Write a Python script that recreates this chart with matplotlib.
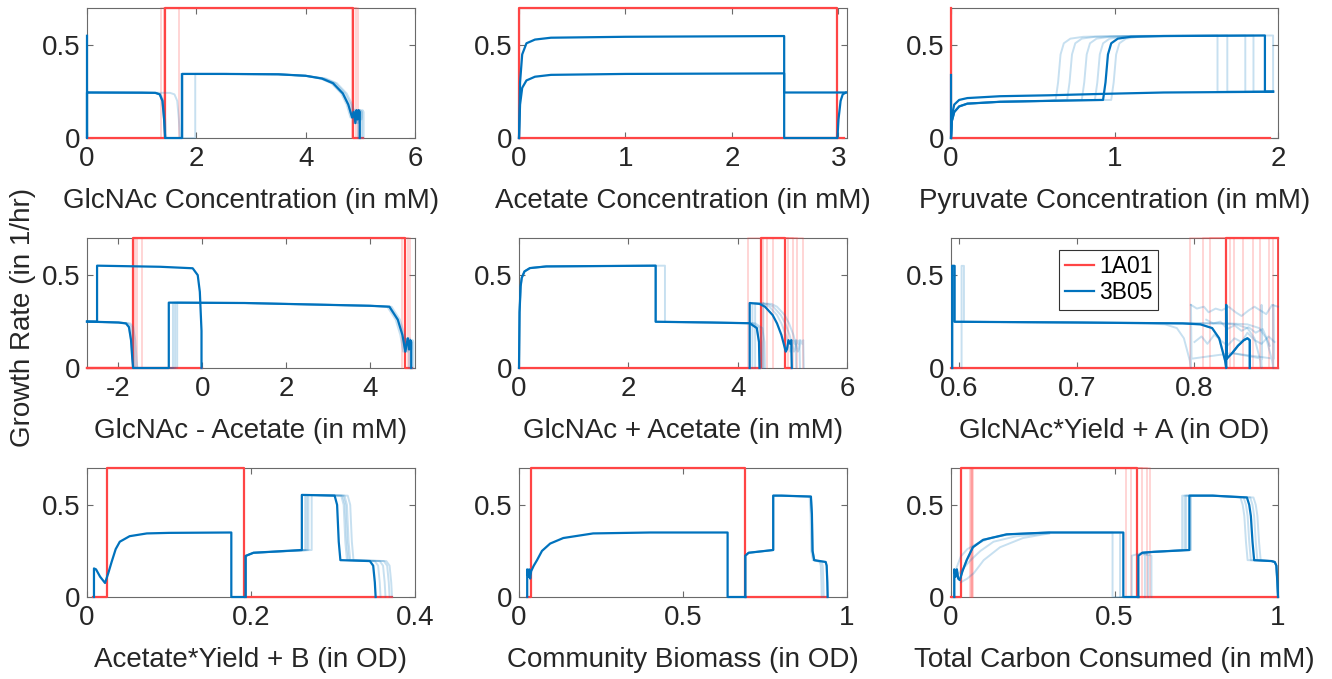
import matplotlib
matplotlib.use("Agg")
import matplotlib.pyplot as plt

plt.rcParams['font.family'] = ['Liberation Sans', 'DejaVu Sans']

RED = '#ff4545'
BLUE = '#0072bd'
AXC = '#6a6a6a'
TXT = '#262626'

# ---------------- data ----------------
xlabels = ['GlcNAc Concentration (in mM)', 'Acetate Concentration (in mM)',
           'Pyruvate Concentration (in mM)', 'GlcNAc - Acetate (in mM)',
           'GlcNAc + Acetate (in mM)', 'GlcNAc*Yield + A (in OD)',
           'Acetate*Yield + B (in OD)', 'Community Biomass (in OD)',
           'Total Carbon Consumed (in mM)']
xlims = [(0, 6), (0, 3.08), (0, 2), (-2.75, 5.07), (0, 6), (0.593, 0.871),
         (0, 0.4), (0, 1), (0, 1)]
xticks = [[0, 2, 4, 6], [0, 1, 2, 3], [0, 1, 2], [-2, 0, 2, 4], [0, 2, 4, 6],
          [0.6, 0.7, 0.8], [0, 0.2, 0.4], [0, 0.5, 1], [0, 0.5, 1]]
xticklabels = [['0', '2', '4', '6'], ['0', '1', '2', '3'], ['0', '1', '2'],
               ['-2', '0', '2', '4'], ['0', '2', '4', '6'], ['0.6', '0.7', '0.8'],
               ['0', '0.2', '0.4'], ['0', '0.5', '1'], ['0', '0.5', '1']]

# panel 1 : GlcNAc concentration
p1_red_x = [0, 1.43, 1.43, 4.87, 4.87, 5.05]
p1_red_y = [0, 0, 0.7, 0.7, 0, 0]
p1_red_faint = [(1.36, 4.84), (1.40, 4.92), (1.68, 4.96)]
p1_blue_x = [0, 0, 0, 1.0, 1.25, 1.33, 1.38, 1.41, 1.43, 1.74, 1.74, 2.5, 3.5, 4.0, 4.3,
             4.5, 4.68, 4.78, 4.85, 4.88, 4.91, 4.93, 4.95, 4.97, 4.99, 4.99]
p1_blue_y = [0.55, 0, 0.245, 0.244, 0.243, 0.235, 0.2, 0.1, 0, 0, 0.345, 0.345, 0.343,
             0.335, 0.32, 0.295, 0.24, 0.18, 0.11, 0.14, 0.08, 0.15, 0.1, 0.15, 0.14, 0]
p1_blue_moves = [[(1.2, 1.45, 0.27), (1.7, 1.75, 0.24)],
                 [(1.2, 1.45, 0.02), (1.7, 1.75, -0.02), (4.3, 5.0, 0.04)],
                 [(4.3, 5.0, 0.07)],
                 [(4.3, 5.0, -0.03)]]

# panel 2 : acetate concentration
p2_red_x = [0, 0, 2.99, 2.99, 3.05]
p2_red_y = [0, 0.7, 0.7, 0, 0]
p2_red_base_x = [0, 2.99]
p2_red_base_y = [0, 0]
p2_blueA_x = [0, 0.01, 0.03, 0.07, 0.15, 0.3, 1.0, 2.49, 2.49, 2.99, 3.0, 3.02, 3.04, 3.07]
p2_blueA_y = [0, 0.3, 0.45, 0.51, 0.53, 0.54, 0.545, 0.549, 0, 0, 0.1, 0.2, 0.235, 0.245]
p2_blueB_x = [0, 0.01, 0.03, 0.07, 0.15, 0.3, 1.0, 2.49, 2.49, 3.07]
p2_blueB_y = [0, 0.18, 0.27, 0.31, 0.33, 0.34, 0.345, 0.348, 0.245, 0.245]

# panel 3 : pyruvate concentration
p3_red_x = [0, 0, 1.95]
p3_red_y = [0.7, 0, 0]
p3_spike_x = [0, 0]
p3_spike_y = [0, 0.34]
p3_blueA_x = [0, 0.005, 0.02, 0.05, 0.1, 0.3, 0.6, 0.9, 1.3, 1.97]
p3_blueA_y = [0, 0.12, 0.18, 0.205, 0.215, 0.225, 0.23, 0.237, 0.245, 0.249]
p3_blueB_x = [0, 0.005, 0.02, 0.05, 0.1, 0.3, 0.6, 0.93, 0.945, 0.96, 0.98, 1.02, 1.1,
              1.3, 1.92, 1.92, 1.97]
p3_blueB_y = [0, 0.09, 0.14, 0.17, 0.185, 0.195, 0.2, 0.205, 0.3, 0.45, 0.51, 0.535,
              0.545, 0.549, 0.552, 0.25, 0.25]
p3_rise = [0.65, 0.72, 0.81, 0.89, 0.99]
p3_end = [1.63, 1.69, 1.80, 1.85, 1.97]

# panel 4 : GlcNAc - acetate
p4_red_x = [-2.75, -1.65, -1.65, 4.82, 4.82, 5.0]
p4_red_y = [0, 0, 0.7, 0.7, 0, 0]
p4_red_base_x = [-2.75, 0.0]
p4_red_base_y = [0, 0]
p4_red_faint = [(-1.55, 4.75), (-1.45, 4.95), (-1.6, 4.9)]
p4_blueA_x = [-2.75, -2.51, -2.51, -1.0, -0.23, -0.11, -0.06, -0.02, -0.02]
p4_blueA_y = [0.25, 0.25, 0.551, 0.545, 0.537, 0.5, 0.41, 0.2, 0]
p4_blueB_x = [-2.75, -2.0, -1.82, -1.75, -1.7, -1.67, -1.65, -0.8, -0.8, 1.0, 3.0, 4.0,
              4.46, 4.66, 4.77, 4.84, 4.87, 4.9, 4.93, 4.96, 4.98, 4.98]
p4_blueB_y = [0.25, 0.245, 0.24, 0.22, 0.15, 0.05, 0, 0, 0.352, 0.35, 0.34, 0.335,
              0.33, 0.26, 0.178, 0.088, 0.13, 0.16, 0.1, 0.15, 0.14, 0]
p4_blue_moves = [[(-1.85, -1.6, 0.1), (-0.8, -0.8, 0.1)],
                 [(-1.85, -1.6, 0.05), (-0.8, -0.8, 0.2), (4.4, 5.0, 0.05)],
                 [(-0.8, -0.8, 0.15), (4.4, 5.0, -0.05)]]

# panel 5 : GlcNAc + acetate
p5_red_x = [0, 4.42, 4.42, 4.87, 4.87, 4.97]
p5_red_y = [0, 0, 0.7, 0.7, 0, 0]
p5_red_faint = [(4.19, 4.92), (4.46, 5.01), (4.53, 5.08), (4.64, 5.19)]
p5_blueA_x = [0, 0.01, 0.03, 0.05, 0.1, 0.2, 0.5, 2.5, 2.5, 3.5, 4.22, 4.35, 4.39, 4.4]
p5_blueA_y = [0, 0.3, 0.44, 0.485, 0.52, 0.538, 0.547, 0.551, 0.249, 0.245, 0.241,
              0.215, 0.14, 0]
p5_blueB_x = [4.22, 4.22, 4.4, 4.5, 4.64, 4.72, 4.8, 4.88, 4.9, 4.93, 4.96, 4.98, 4.99]
p5_blueB_y = [0, 0.35, 0.345, 0.33, 0.285, 0.24, 0.178, 0.088, 0.1, 0.15, 0.13, 0.15, 0]
p5_blueA_moves = [[(2.4, 2.6, 0.17)], [(4.2, 4.41, 0.05)], [(4.2, 4.41, 0.1)]]
p5_blueB_moves = [[(4.22, 4.22, 0.1), (4.3, 5.0, 0.15)],
                  [(4.22, 4.22, 0.05), (4.3, 5.0, 0.22)],
                  [(4.22, 4.22, 0.25), (4.3, 5.0, 0.08)]]

# panel 6 : GlcNAc*Yield + A
p6_red_x = [0.593, 0.827, 0.827, 0.871]
p6_red_y = [0, 0, 0.7, 0.7]
p6_red_base_x = [0.827, 0.871]
p6_red_base_y = [0, 0]
p6_red_faint = [0.796, 0.807, 0.813, 0.830, 0.834, 0.841, 0.850, 0.856, 0.863, 0.867]
p6_blue_x = [0.594, 0.594, 0.596, 0.596, 0.7, 0.79, 0.805, 0.815, 0.821, 0.824, 0.826,
             0.827, 0.827, 0.8275, 0.832, 0.837, 0.842, 0.845, 0.847, 0.847]
p6_blue_y = [0, 0.55, 0.55, 0.249, 0.245, 0.24, 0.235, 0.215, 0.16, 0.088, 0.04, 0,
             0.34, 0.05, 0.08, 0.12, 0.15, 0.16, 0.15, 0]
p6_blue_moves = [[(0.79, 0.83, -0.03)], [(0.79, 0.83, 0.03)], [(0.79, 0.83, 0.04)],
                 [(0.594, 0.596, 0.008)]]
p6_wiggle_x = [[0.797, 0.802, 0.808, 0.812, 0.818, 0.823, 0.829, 0.835, 0.84, 0.846,
                0.851, 0.856, 0.861, 0.866, 0.871],
               [0.8, 0.806, 0.811, 0.817, 0.822, 0.828, 0.834, 0.84, 0.845, 0.851,
                0.857, 0.863, 0.868],
               [0.81, 0.816, 0.822, 0.828, 0.834, 0.84, 0.846, 0.852, 0.858, 0.864]]
p6_wiggle_y = [[0.34, 0.32, 0.33, 0.3, 0.32, 0.31, 0.33, 0.3, 0.28, 0.31, 0.33, 0.31,
                0.29, 0.34, 0.33],
               [0.14, 0.17, 0.13, 0.18, 0.15, 0.12, 0.16, 0.14, 0.19, 0.15, 0.13, 0.17,
                0.14],
               [0.26, 0.24, 0.25, 0.21, 0.23, 0.2, 0.22, 0.19, 0.21, 0.12]]

# panel 7 : Acetate*Yield + B
p7_red_x = [0.007, 0.024, 0.024, 0.191, 0.191, 0.372]
p7_red_y = [0, 0, 0.7, 0.7, 0, 0]
p7_blueA_x = [0.0085, 0.0085, 0.011, 0.016, 0.022, 0.026, 0.03, 0.035, 0.04, 0.052,
              0.073, 0.1, 0.176, 0.176, 0.191]
p7_blueA_y = [0, 0.155, 0.15, 0.11, 0.076, 0.13, 0.19, 0.26, 0.3, 0.33, 0.345, 0.348,
              0.35, 0, 0]
p7_blueB_x = [0.1935, 0.1935, 0.203, 0.262, 0.262, 0.302, 0.305, 0.307, 0.309, 0.345,
              0.349, 0.351, 0.352]
p7_blueB_y = [0, 0.223, 0.24, 0.255, 0.554, 0.55, 0.5, 0.3, 0.2, 0.195, 0.17, 0.08, 0]
p7_blue_moves = [[(0.26, 0.263, 0.004), (0.3, 0.31, 0.008), (0.34, 0.353, 0.006)],
                 [(0.26, 0.263, 0.008), (0.3, 0.31, 0.012), (0.34, 0.353, 0.012)],
                 [(0.26, 0.263, 0.012), (0.3, 0.31, 0.016), (0.34, 0.353, 0.017)],
                 [(0.26, 0.263, 0.006), (0.3, 0.31, 0.01), (0.34, 0.353, 0.02)]]

# panel 8 : community biomass
p8_red_x = [0.023, 0.037, 0.037, 0.69, 0.69, 0.94]
p8_red_y = [0, 0, 0.7, 0.7, 0, 0]
p8_blueA_x = [0.025, 0.025, 0.028, 0.031, 0.034, 0.037, 0.045, 0.055, 0.07, 0.095, 0.135,
              0.226, 0.4, 0.636, 0.636, 0.69]
p8_blueA_y = [0, 0.15, 0.11, 0.15, 0.1, 0.14, 0.17, 0.2, 0.25, 0.29, 0.32, 0.345, 0.35,
              0.35, 0, 0]
p8_blueB_x = [0.69, 0.69, 0.7, 0.775, 0.775, 0.8, 0.89, 0.893, 0.895, 0.9, 0.935, 0.938,
              0.94, 0.941]
p8_blueB_y = [0, 0.224, 0.24, 0.255, 0.55, 0.55, 0.545, 0.45, 0.25, 0.2, 0.19, 0.17, 0.08, 0]
p8_blue_moves = [[(0.93, 0.95, -0.012)], [(0.93, 0.95, -0.018)], [(0.88, 0.9, -0.004)]]

# panel 9 : total carbon consumed
p9_red_x = [0, 0.03, 0.03, 0.569, 0.569, 1.0]
p9_red_y = [0, 0, 0.7, 0.7, 0, 0]
p9_red_faint = [(0.058, 0.535), (0.063, 0.55), (0.068, 0.585), (0.06, 0.6), (0.065, 0.61)]
p9_blueA_x = [0.01, 0.01, 0.014, 0.018, 0.022, 0.027, 0.035, 0.048, 0.067, 0.098, 0.17,
              0.3, 0.527, 0.527, 0.573]
p9_blueA_y = [0, 0.15, 0.11, 0.15, 0.1, 0.092, 0.14, 0.2, 0.27, 0.31, 0.34, 0.35, 0.35, 0, 0]
p9_blueB_x = [0.573, 0.573, 0.585, 0.62, 0.729, 0.729, 0.8, 0.905, 0.912, 0.917, 0.922,
              0.927, 0.98, 0.99, 0.995, 0.998, 1.0]
p9_blueB_y = [0, 0.224, 0.24, 0.245, 0.255, 0.55, 0.55, 0.54, 0.5, 0.44, 0.3, 0.2,
              0.195, 0.19, 0.17, 0.08, 0]
p9_blueA_moves = [[(0.5, 0.6, -0.033)], [(0.5, 0.6, -0.01)]]
p9_blueB_moves = [[(0.573, 0.573, -0.02), (0.7, 0.75, -0.022), (0.9, 0.93, -0.02)],
                  [(0.573, 0.573, 0.02), (0.7, 0.75, -0.01), (0.9, 0.93, -0.01)],
                  [(0.573, 0.573, 0.03), (0.7, 0.75, 0.005), (0.9, 0.93, 0.01)],
                  [(0.573, 0.573, 0.04), (0.7, 0.75, -0.015), (0.9, 0.93, 0.02)]]
p9_early_x = [[0.02, 0.04, 0.06, 0.09, 0.13, 0.2, 0.3],
              [0.015, 0.03, 0.05, 0.08, 0.12, 0.18, 0.3],
              [0.03, 0.05, 0.07, 0.1, 0.15, 0.22, 0.3]]
p9_early_y = [[0.12, 0.16, 0.2, 0.25, 0.3, 0.33, 0.345],
              [0.15, 0.22, 0.26, 0.29, 0.32, 0.34, 0.35],
              [0.08, 0.1, 0.13, 0.2, 0.27, 0.32, 0.345]]


def moved(xs, moves):
    out = []
    for x in xs:
        for lo, hi, dx in moves:
            if lo <= x <= hi:
                x = x + dx
                break
        out.append(x)
    return out


def main_line(ax, x, y, c, **kw):
    return ax.plot(x, y, color=c, lw=1.6, clip_on=False, **kw)[0]


def faint_line(ax, x, y, c):
    ax.plot(x, y, color=c, lw=1.4, alpha=0.22, clip_on=False)


def faint_box(ax, lo, hi):
    faint_line(ax, [lo, lo, hi, hi], [0, 0.7, 0.7, 0], RED)


# ---------------- figure ----------------
W, H = 1332, 679
fig = plt.figure(figsize=(W / 100, H / 100), dpi=100)
cols = [(87, 415), (519, 847), (951, 1278)]
rows = [(8, 138), (238, 368), (468, 597)]

axes = []
for r, (top, bot) in enumerate(rows):
    for c, (lft, rgt) in enumerate(cols):
        ax = fig.add_axes([lft / W, 1 - bot / H, (rgt - lft) / W, (bot - top) / H])
        axes.append(ax)

# panel 1
ax = axes[0]
main_line(ax, p1_red_x, p1_red_y, RED)
for lo, hi in p1_red_faint:
    faint_box(ax, lo, hi)
for mv in p1_blue_moves:
    faint_line(ax, moved(p1_blue_x, mv), p1_blue_y, BLUE)
main_line(ax, p1_blue_x, p1_blue_y, BLUE)

# panel 2
ax = axes[1]
main_line(ax, p2_red_base_x, p2_red_base_y, RED)
main_line(ax, p2_red_x, p2_red_y, RED)
main_line(ax, p2_blueA_x, p2_blueA_y, BLUE)
main_line(ax, p2_blueB_x, p2_blueB_y, BLUE)

# panel 3
ax = axes[2]
main_line(ax, p3_red_x, p3_red_y, RED)
main_line(ax, p3_spike_x, p3_spike_y, BLUE)
for rise, end in zip(p3_rise, p3_end):
    mv = [(0.92, 1.5, rise - 0.94), (1.9, 1.95, end - 1.92)]
    faint_line(ax, moved(p3_blueB_x, mv), p3_blueB_y, BLUE)
main_line(ax, p3_blueA_x, p3_blueA_y, BLUE)
main_line(ax, p3_blueB_x, p3_blueB_y, BLUE)

# panel 4
ax = axes[3]
main_line(ax, p4_red_base_x, p4_red_base_y, RED)
main_line(ax, p4_red_x, p4_red_y, RED)
for lo, hi in p4_red_faint:
    faint_box(ax, lo, hi)
for mv in p4_blue_moves:
    faint_line(ax, moved(p4_blueB_x, mv), p4_blueB_y, BLUE)
main_line(ax, p4_blueA_x, p4_blueA_y, BLUE)
main_line(ax, p4_blueB_x, p4_blueB_y, BLUE)

# panel 5
ax = axes[4]
main_line(ax, p5_red_x, p5_red_y, RED)
for lo, hi in p5_red_faint:
    faint_box(ax, lo, hi)
for mv in p5_blueA_moves:
    faint_line(ax, moved(p5_blueA_x, mv), p5_blueA_y, BLUE)
for mv in p5_blueB_moves:
    faint_line(ax, moved(p5_blueB_x, mv), p5_blueB_y, BLUE)
main_line(ax, p5_blueA_x, p5_blueA_y, BLUE)
main_line(ax, p5_blueB_x, p5_blueB_y, BLUE)

# panel 6
ax = axes[5]
lr = main_line(ax, p6_red_x, p6_red_y, RED, label='1A01')
main_line(ax, p6_red_base_x, p6_red_base_y, RED)
for lo in p6_red_faint:
    faint_box(ax, lo, xlims[5][1])
for mv in p6_blue_moves:
    faint_line(ax, moved(p6_blue_x, mv), p6_blue_y, BLUE)
for wx, wy in zip(p6_wiggle_x, p6_wiggle_y):
    faint_line(ax, wx, wy, BLUE)
lb = main_line(ax, p6_blue_x, p6_blue_y, BLUE, label='3B05')
leg = ax.legend(handles=[lr, lb], loc='upper left', bbox_to_anchor=(0.33, 0.91),
                borderaxespad=0, fancybox=False, edgecolor='#333333', fontsize=16.5,
                handlelength=1.3, handletextpad=0.2, borderpad=0.25, labelspacing=0.12,
                framealpha=1)
leg.get_frame().set_linewidth(0.8)

# panel 7
ax = axes[6]
main_line(ax, p7_red_x, p7_red_y, RED)
for mv in p7_blue_moves:
    faint_line(ax, moved(p7_blueB_x, mv), p7_blueB_y, BLUE)
main_line(ax, p7_blueA_x, p7_blueA_y, BLUE)
main_line(ax, p7_blueB_x, p7_blueB_y, BLUE)

# panel 8
ax = axes[7]
main_line(ax, p8_red_x, p8_red_y, RED)
for mv in p8_blue_moves:
    faint_line(ax, moved(p8_blueB_x, mv), p8_blueB_y, BLUE)
main_line(ax, p8_blueA_x, p8_blueA_y, BLUE)
main_line(ax, p8_blueB_x, p8_blueB_y, BLUE)

# panel 9
ax = axes[8]
main_line(ax, p9_red_x, p9_red_y, RED)
for lo, hi in p9_red_faint:
    faint_box(ax, lo, hi)
for mv in p9_blueA_moves:
    faint_line(ax, moved(p9_blueA_x, mv), p9_blueA_y, BLUE)
for mv in p9_blueB_moves:
    faint_line(ax, moved(p9_blueB_x, mv), p9_blueB_y, BLUE)
for ex, ey in zip(p9_early_x, p9_early_y):
    faint_line(ax, ex, ey, BLUE)
main_line(ax, p9_blueA_x, p9_blueA_y, BLUE)
main_line(ax, p9_blueB_x, p9_blueB_y, BLUE)

# styling
for i, ax in enumerate(axes):
    ax.set_xlim(*xlims[i])
    ax.set_ylim(0, 0.7)
    ax.set_xticks(xticks[i])
    ax.set_xticklabels(xticklabels[i])
    ax.set_yticks([0, 0.5])
    ax.set_yticklabels(['0', '0.5'])
    ax.tick_params(direction='in', top=True, right=True, length=4, width=0.8,
                   color=AXC, labelsize=20, labelcolor=TXT)
    ax.tick_params(axis='x', pad=6)
    ax.tick_params(axis='y', pad=4.5)
    for s in ax.spines.values():
        s.set_color(AXC)
        s.set_linewidth(0.8)
        s.set_zorder(0.5)
    ax.set_xlabel(xlabels[i], fontsize=20, color=TXT, labelpad=11)

fig.text(0.017, 0.532, 'Growth Rate (in 1/hr)', rotation=90, fontsize=20,
         color=TXT, ha='center', va='center')

fig.savefig('out.png', dpi=100)
